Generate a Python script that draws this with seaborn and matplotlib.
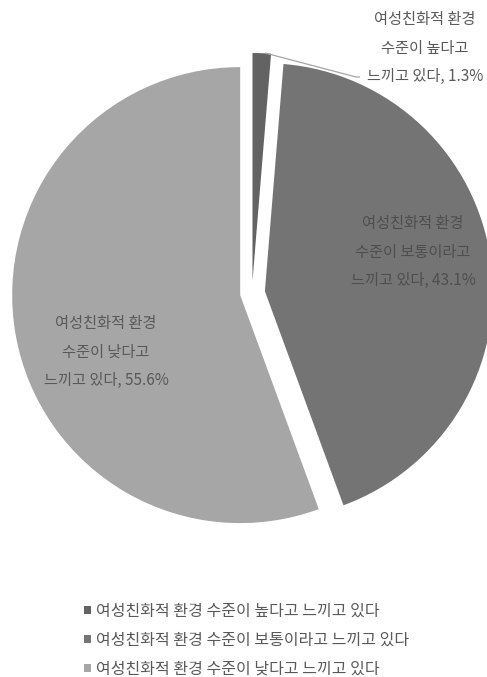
import matplotlib
matplotlib.use("Agg")
import matplotlib.pyplot as plt
import seaborn as sns

# Survey answers about the women-friendly environment level
categories = [
    "여성친화적 환경 수준이 높다고 느끼고 있다",
    "여성친화적 환경 수준이 보통이라고 느끼고 있다",
    "여성친화적 환경 수준이 낮다고 느끼고 있다",
]
label_lines = [
    ["여성친화적 환경", "수준이 높다고", "느끼고 있다"],
    ["여성친화적 환경", "수준이 보통이라고", "느끼고 있다"],
    ["여성친화적 환경", "수준이 낮다고", "느끼고 있다"],
]
shares = [1.3, 43.1, 55.6]
colors = ["#636363", "#747474", "#a6a6a6"]

sns.set_theme(style="white")
plt.rcParams["font.family"] = ["Noto Sans CJK KR", "DejaVu Sans"]

W, H = 487, 677
fig = plt.figure(figsize=(W / 100, H / 100), dpi=100)
ax = fig.add_axes([0, 0, 1, 1])


def py(y):
    """Convert a top-down pixel row into the y-up axis coordinate."""
    return H - y


radius = 228
center = (252, py(293))
# explode offsets are in axis units (pixels here)
wedges, _ = ax.pie(
    shares,
    colors=colors,
    startangle=90,
    counterclock=False,
    radius=radius,
    center=center,
    explode=[12, 13, 12],
    wedgeprops=dict(linewidth=0),
    frame=True,
)
ax.set_xlim(0, W)
ax.set_ylim(0, H)
ax.set_aspect("equal")
ax.axis("off")

text_col = "#595959"
texts = [f"{a}\n{b}\n{c}, {v:.1f}%" for (a, b, c), v in zip(label_lines, shares)]
label_pos = [(425, py(48)), (413, py(252)), (106, py(352))]
label_col = [text_col, "#4e4e4e", text_col]
for t, (x, y), c in zip(texts, label_pos, label_col):
    ax.text(x, y, t, ha="center", va="center", fontsize=11, color=c,
            linespacing=1.9)

# leader line from the thin slice to its label
ax.plot([265, 356, 360], [py(53), py(77), py(77)], color="#a6a6a6", lw=0.9,
        solid_capstyle="butt")

ax.legend(
    wedges, categories,
    loc="upper left", bbox_to_anchor=(78 / W, py(596) / H),
    frameon=False, fontsize=11.5, labelcolor=text_col,
    handlelength=0.4, handleheight=0.4, handletextpad=0.35,
    labelspacing=0.75, borderaxespad=0,
)

fig.savefig("out.png", dpi=100, facecolor="white")
